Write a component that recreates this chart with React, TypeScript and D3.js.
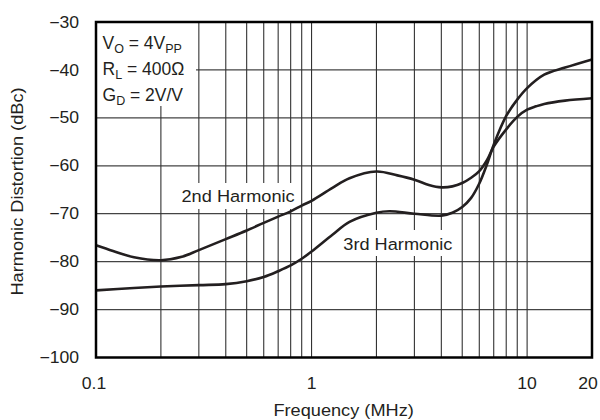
import React from "react";
import * as d3 from "d3";

const freq2 = [0.1, 0.12, 0.15, 0.2, 0.25, 0.3, 0.4, 0.5, 0.6, 0.7, 0.8, 0.9, 1, 1.25, 1.5, 2, 2.5, 3, 3.5, 4, 4.5, 5, 5.5, 6, 6.5, 7, 8, 9, 10, 11, 12, 15, 20];
const hd2 = [-76.6, -77.8, -79.1, -79.7, -79.0, -77.6, -75.3, -73.5, -71.9, -70.6, -69.5, -68.3, -67.3, -64.6, -62.6, -61.2, -62.0, -62.9, -64.0, -64.5, -64.3, -63.6, -62.5, -61.1, -58.9, -56.0, -52.4, -49.8, -48.3, -47.6, -47.1, -46.4, -45.9];

const freq3 = [0.1, 0.15, 0.2, 0.3, 0.4, 0.5, 0.6, 0.7, 0.8, 0.9, 1, 1.25, 1.5, 2, 2.3, 3, 4, 4.5, 5, 5.5, 6, 6.5, 7, 8, 9, 10, 12, 15, 20];
const hd3 = [-86.0, -85.5, -85.2, -84.9, -84.7, -84.1, -83.2, -82.0, -80.8, -79.4, -77.9, -74.4, -71.7, -69.8, -69.5, -70.0, -70.4, -69.8, -68.6, -66.7, -63.7, -59.8, -55.6, -49.6, -46.2, -43.8, -41.0, -39.5, -37.8];

const xTicks = [0.1, 1, 10, 20];
const xTickLabels = ["0.1", "1", "10", "20"];
const xGrid = [0.2, 0.3, 0.4, 0.5, 0.6, 0.7, 0.8, 0.9, 1, 2, 3, 4, 5, 6, 7, 8, 9, 10];
const yTicks = [-30, -40, -50, -60, -70, -80, -90, -100];
const yGrid = [-40, -50, -60, -70, -80, -90];

const FONT = "'Liberation Sans', Arial, Helvetica, sans-serif";
const INK = "#231f20";

function SText({ x, y, anchor = "start", size = 16, sx = 1.08, rotate = 0, children }: any) {
  return (
    <text
      transform={`translate(${x},${y}) rotate(${rotate}) scale(${sx},1)`}
      textAnchor={anchor}
      fontSize={size}
      fontFamily={FONT}
      fill={INK}
    >
      {children}
    </text>
  );
}

export default function App() {
  const left = 96, right = 592, top = 22, bottom = 357.5;
  const x = d3.scaleLog().domain([0.1, 20]).range([left, right]);
  const y = d3.scaleLinear().domain([-100, -30]).range([bottom, top]);

  const line = d3
    .line<[number, number]>()
    .x((d) => x(d[0]))
    .y((d) => y(d[1]))
    .curve(d3.curveCatmullRom.alpha(0.5));

  const p2 = line(freq2.map((f, i) => [f, hd2[i]] as [number, number])) || "";
  const p3 = line(freq3.map((f, i) => [f, hd3[i]] as [number, number])) || "";

  return (
    <svg width={600} height={420} style={{ position: "absolute", left: 0, top: 0, background: "#fff" }}>
      <rect x={0} y={0} width={600} height={420} fill="#fff" />
      {yGrid.map((v) => (
        <line key={"h" + v} x1={left} x2={right} y1={y(v)} y2={y(v)} stroke="#444" strokeWidth={1.2} />
      ))}
      {xGrid.map((v) => (
        <line key={"v" + v} x1={x(v)} x2={x(v)} y1={top} y2={bottom} stroke="#333" strokeWidth={1.1} />
      ))}

      {/* annotation box */}
      <rect x={left} y={top} width={100} height={84} fill="#fff" />
      <g fontFamily={FONT} fill={INK} fontSize={17.5}>
        <text x={102.5} y={48.7}>
          V<tspan fontSize={12.5} dy={4}>O</tspan>
          <tspan dy={-4}> = 4V</tspan>
          <tspan fontSize={12.5} dy={4}>PP</tspan>
        </text>
        <text x={102.5} y={74.7}>
          R<tspan fontSize={12.5} dy={4}>L</tspan>
          <tspan dy={-4}> = 400Ω</tspan>
        </text>
        <text x={102.5} y={100.7}>
          G<tspan fontSize={12.5} dy={4}>D</tspan>
          <tspan dy={-4}> = 2V/V</tspan>
        </text>
      </g>

      {/* label boxes */}
      <rect x={179} y={183} width={115} height={26} fill="#fff" />
      <SText x={181.5} y={201.5} size={17} sx={1.07}>2nd Harmonic</SText>
      <rect x={340} y={230} width={118} height={26} fill="#fff" />
      <SText x={343.3} y={249.5} size={17} sx={1.07}>3rd Harmonic</SText>

      <path d={p2} fill="none" stroke={INK} strokeWidth={2.6} />
      <path d={p3} fill="none" stroke={INK} strokeWidth={2.6} />

      <rect x={left} y={top} width={right - left} height={bottom - top} fill="none" stroke="#000" strokeWidth={2.5} />

      {yTicks.map((v) => (
        <SText key={"yt" + v} x={79} y={y(v) + 5.6} anchor="end" size={16} sx={1.1}>
          {"\u2212" + Math.abs(v)}
        </SText>
      ))}
      {xTicks.map((v, i) => (
        <SText key={"xt" + v} x={x(v) - (i === 0 ? 2 : i === 3 ? 4 : 0)} y={389.3} anchor="middle" size={16} sx={1.1}>
          {xTickLabels[i]}
        </SText>
      ))}
      <SText x={343.6} y={415.8} anchor="middle" size={17} sx={1.07}>Frequency (MHz)</SText>
      <SText x={23.3} y={191.5} anchor="middle" size={17} sx={1.07} rotate={-90}>Harmonic Distortion (dBc)</SText>
    </svg>
  );
}
